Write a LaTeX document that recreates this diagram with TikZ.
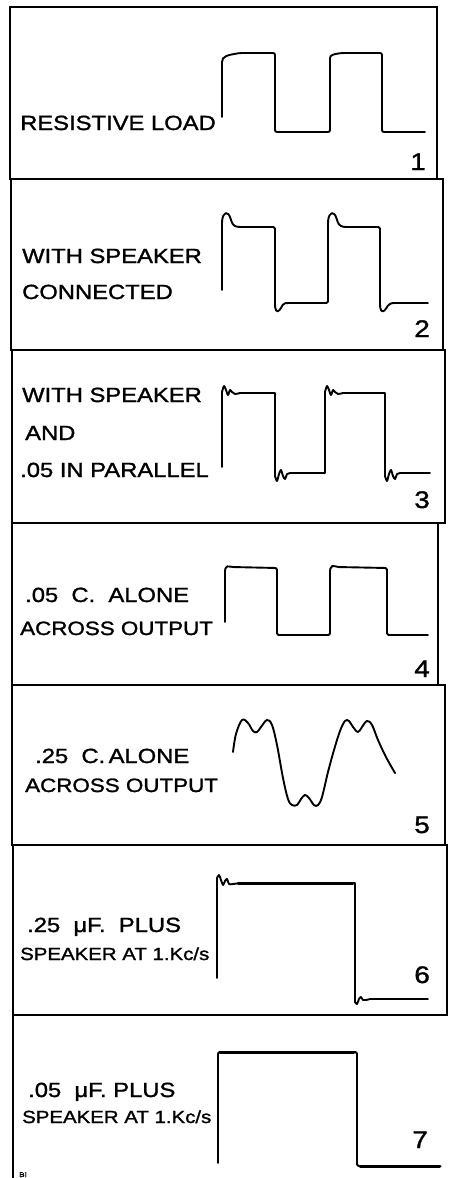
\documentclass[tikz,border=0pt]{standalone}
\usepackage{fontspec}
\setmainfont{Liberation Sans}[FakeStretch=1.16, FakeBold=1.4]
\begin{document}
\begin{tikzpicture}[x=1pt,y=-1pt,
  frame/.style={line width=1.3pt, line join=miter},
  wave/.style={line width=1.9pt, line join=round, line cap=round},
  heavy/.style={line width=3pt, line cap=round},
  lbl/.style={anchor=base west, inner sep=0pt, font=\fontsize{20.5}{24}\selectfont},
  lblm/.style={anchor=base west, inner sep=0pt, font=\fontsize{19.3}{23}\selectfont},
  lbls/.style={anchor=base west, inner sep=0pt, font=\fontsize{17.6}{21}\selectfont},
  num/.style={anchor=base east, inner sep=0pt, font=\fontsize{24}{27}\selectfont}]
\useasboundingbox (0,0) rectangle (448,1178);
% panel frames
\draw[frame] (10,7) rectangle (437,179);
\draw[frame] (11,179) rectangle (443,350);
\draw[frame] (12,350) rectangle (445,523);
\draw[frame] (12,523) rectangle (438,685);
\draw[frame] (12,685) rectangle (445,845);
\draw[frame] (13,845) rectangle (447,1015);
\draw[frame] (13,1178) -- (13,1015) -- (448,1015);

% panel 1
\node[lbl] (t1) at (20,130) {RESISTIVE LOAD};
\draw[wave, rounded corners=2pt] (222,117) -- (222,64) .. controls (222,56) and (228,55) .. (240,53) -- (275,53) -- (275,132) -- (330,132) -- (330,60) .. controls (330,55) and (334,54) .. (342,53) -- (382,53) -- (382,132) -- (425,132);
\node[num] (n1) at (426,170) {1};

% panel 2
\node[lbl] (t2a) at (22,263) {WITH SPEAKER};
\node[lbl] (t2b) at (22,299) {CONNECTED};
\draw[wave, rounded corners=1.5pt] (222,290) -- (222,222) .. controls (223,212) and (228,210) .. (231,220) .. controls (233,226) and (236,227) .. (242,227) -- (275,227) -- (275,306) .. controls (276,313) and (279,312) .. (282,306) .. controls (284,303) and (286,303) .. (290,303) -- (328,303) -- (328,222) .. controls (329,212) and (334,210) .. (337,220) .. controls (339,226) and (342,227) .. (348,227) -- (380,227) -- (380,306) .. controls (381,313) and (384,312) .. (387,307) .. controls (389,304) and (391,303) .. (396,303) -- (428,303);
\node[num] (n2) at (430,337) {2};

% panel 3
\node[lbl] (t3a) at (22,402) {WITH SPEAKER};
\node[lbl] (t3b) at (25,440) {AND};
\node[lbl] (t3c) at (20,477) {.05 IN PARALLEL};
\draw[wave] (222,467) -- (222,392) -- plot[smooth] coordinates {(222,392) (224,386) (226,390) (228,395) (230,390) (232,392) (235,394) (240,393)} -- (275,393) -- (275,476) -- plot[smooth] coordinates {(275,476) (277,481) (279,474) (281,470) (283,476) (285,479) (287,474) (290,473) (295,473)} -- (325,473) -- (325,392) -- plot[smooth] coordinates {(325,392) (327,386) (329,390) (331,395) (333,390) (335,392) (338,394) (343,393)} -- (385,393) -- (385,476) -- plot[smooth] coordinates {(385,476) (387,481) (389,474) (391,470) (393,476) (395,479) (397,474) (400,473) (405,473)} -- (430,473);
\node[num] (n3) at (430,508) {3};

% panel 4
\node[lbl] (t4a) at (25,602) {.05\ \ C.\ \ ALONE};
\node[lblm] (t4b) at (20,635) {ACROSS OUTPUT};
\draw[wave, rounded corners=1.5pt] (225,622) -- (225,570) .. controls (226,566) and (228,566) .. (232,567) -- (277,568) -- (277,635) -- (330,635) -- (330,570) .. controls (331,566) and (333,565) .. (337,567) -- (387,568) -- (387,635) -- (428,635);
\node[num] (n4) at (430,677) {4};

% panel 5
\node[lbl] (t5a) at (35,763) {.25\ \ C.\,ALONE};
\node[lblm] (t5b) at (25,792) {ACROSS OUTPUT};
\draw[wave] plot[smooth, tension=0.6] coordinates {(233,752) (236,734) (242,720) (248,723) (253,731) (257,732) (261,727) (267,720) (272,725) (277,745) (283,778) (288,799) (292,805) (297,805) (301,799) (305,795) (309,798) (314,805) (318,805) (322,797) (328,772) (334,750) (340,731) (345,721) (349,721) (353,727) (358,732) (362,727) (367,721) (372,725) (378,740) (386,757) (395,773)};
\node[num] (n5) at (430,833) {5};

% panel 6
\node[lbl] (t6a) at (27,932) {.25\ \ μF.\ \ PLUS};
\node[lbls] (t6b) at (20,960) {SPEAKER AT 1.Kc/s};
\draw[wave] (217,978) -- (217,878) -- plot[smooth] coordinates {(217,878) (219,875) (221,880) (223,885) (225,881) (227,879) (229,884) (233,884) (240,883)} -- (355,883) -- (355,1002) -- plot[smooth] coordinates {(355,1002) (357,1004) (359,999) (361,997) (363,1000) (366,1000) (370,999)} -- (428,999);
\draw[heavy] (238,883) -- (353,883);
\node[num] (n6) at (430,983) {6};

% panel 7
\node[lbl] (t7a) at (28,1097) {.05\ \ μF.\ PLUS};
\node[lbls] (t7b) at (22,1123) {SPEAKER AT 1.Kc/s};
\draw[wave, rounded corners=1.5pt] (218,1163) -- (218,1052) -- (357,1052) -- (357,1166) -- (440,1166);
\draw[heavy] (220,1052) -- (354,1052);
\draw[heavy] (360,1166) -- (440,1166);
\node[num] (n7) at (428,1148) {7};
\node[anchor=base west, inner sep=0pt, font=\fontsize{7}{7}\selectfont] (mk) at (19,1177) {BI};
\end{tikzpicture}
\end{document}
